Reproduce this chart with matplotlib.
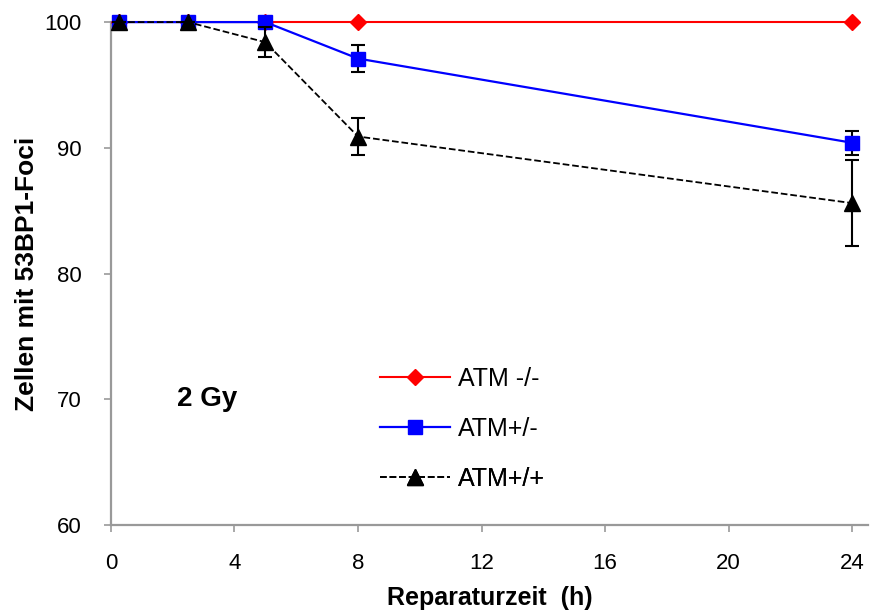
import matplotlib
matplotlib.use("Agg")
import matplotlib.pyplot as plt

plt.rcParams["font.family"] = ["Liberation Sans", "DejaVu Sans"]

# data
hours = [0.25, 2.5, 5, 8, 24]
atm_ko = [100, 100, 100, 100, 100]
atm_het = [100, 100, 100, 97.1, 90.4]
atm_het_err = [0, 0, 0, 1.05, 0.95]
atm_wt = [100, 100, 98.4, 90.9, 85.6]
atm_wt_err = [0, 0, 1.2, 1.5, 3.4]
labels = ["ATM -/-", "ATM+/-", "ATM+/+"]
x_ticks = [0, 4, 8, 12, 16, 20, 24]
y_ticks = [60, 70, 80, 90, 100]

fig = plt.figure(figsize=(8.73, 6.14), dpi=100)
ax = fig.add_axes([0.127, 0.145, 0.867, 0.819])

h_ko, = ax.plot(hours, atm_ko, color="#ff0000", linestyle="-", linewidth=1.5,
                marker="D", markersize=8, clip_on=False, zorder=3)
h_het = ax.errorbar(hours, atm_het, yerr=atm_het_err, color="#0000ff", linestyle="-",
                    linewidth=1.6, marker="s", markersize=10, capsize=4.7,
                    ecolor="black", elinewidth=1.5, capthick=1.5, clip_on=False, zorder=4)
h_wt = ax.errorbar(hours, atm_wt, yerr=atm_wt_err, color="black", linestyle="--",
                   linewidth=1.3, marker="^", markersize=11.5, capsize=4.7,
                   elinewidth=1.5, capthick=1.5, clip_on=False, zorder=5)
for h in (h_wt, h_het):
    for b in h[1] + h[2]:
        b.set_clip_on(False)

ax.set_xlim(0, 24.5)
ax.set_ylim(60, 100)
ax.set_xticks(x_ticks)
ax.set_yticks(y_ticks)
ax.tick_params(axis="both", direction="out", length=5, width=1.2, color="#999999",
               labelsize=16)
ax.tick_params(axis="x", pad=15)
ax.tick_params(axis="y", pad=16)
for s in ("top", "right"):
    ax.spines[s].set_visible(False)
for s in ("left", "bottom"):
    ax.spines[s].set_color("#999999")
    ax.spines[s].set_linewidth(1.6)

ax.set_xlabel("Reparaturzeit  (h)", fontsize=18, fontweight="bold", labelpad=9)
ax.set_ylabel("Zellen mit 53BP1-Foci", fontsize=19, fontweight="bold", labelpad=4)

ax.text(0.087, 0.25, "2 Gy", transform=ax.transAxes, fontsize=20, fontweight="bold",
        va="center", ha="left")

# legend entries
entries = [(h_ko, labels[0], 0.290), (h_het[0], labels[1], 0.191), (h_wt[0], labels[2], 0.0915)]
for handle, lab, y in entries:
    leg = ax.legend([handle], [lab], loc="center left", bbox_to_anchor=(0.356, y),
                    frameon=False, fontsize=18, handlelength=2.8, borderpad=0,
                    borderaxespad=0, handletextpad=0.3)
    ax.add_artist(leg)

fig.savefig("out.png", dpi=100)
